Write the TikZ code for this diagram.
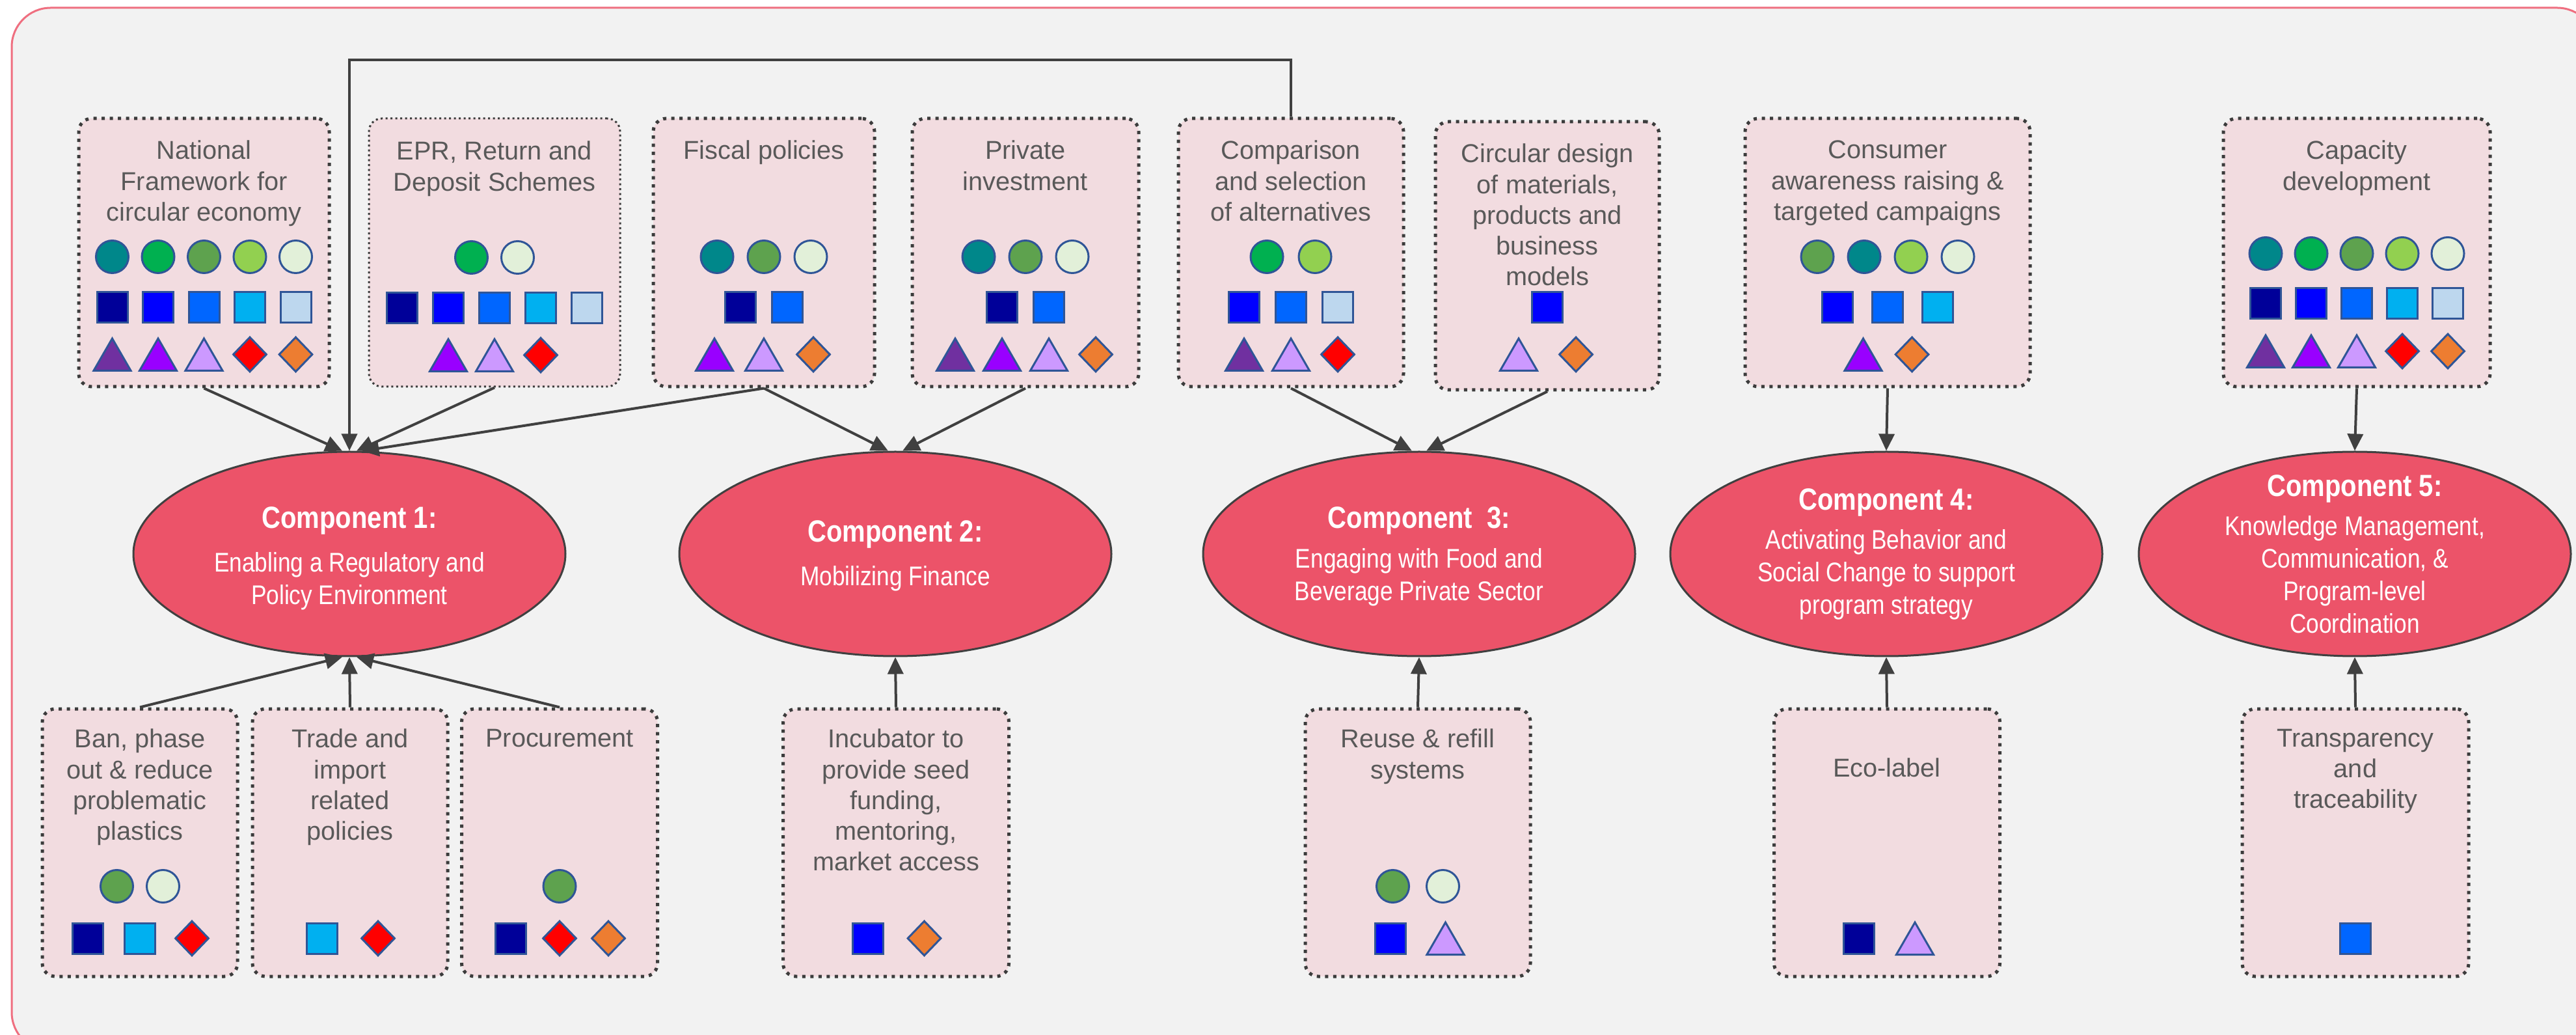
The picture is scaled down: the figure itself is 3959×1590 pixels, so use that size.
\documentclass[tikz,border=0pt]{standalone}
\usepackage{fontspec}
\setmainfont{Liberation Sans}
\newfontfamily\condfont[FakeStretch=0.85]{Liberation Sans}
\usetikzlibrary{shapes.geometric,positioning,calc,arrows.meta}

\definecolor{pagegray}{HTML}{F2F2F2}
\definecolor{framepink}{HTML}{EF6F80}
\definecolor{boxpink}{HTML}{F2DCE0}
\definecolor{boxline}{HTML}{3C3C3C}
\definecolor{compred}{HTML}{EC5369}
\definecolor{linegray}{HTML}{404040}
\definecolor{textgray}{HTML}{595959}
\definecolor{iconline}{HTML}{2F5597}
% circles
\definecolor{cteal}{HTML}{00878A}
\definecolor{cgreen}{HTML}{00B050}
\definecolor{cmoss}{HTML}{5EA24E}
\definecolor{clime}{HTML}{92D050}
\definecolor{cpale}{HTML}{E2F0D9}
% squares
\definecolor{snavy}{HTML}{000099}
\definecolor{sblue}{HTML}{0000FF}
\definecolor{sazure}{HTML}{0066FF}
\definecolor{ssky}{HTML}{00B0F0}
\definecolor{sice}{HTML}{BDD7EE}
% triangles and diamonds
\definecolor{tpurple}{HTML}{7030A0}
\definecolor{tviolet}{HTML}{9900FF}
\definecolor{tlilac}{HTML}{CC99FF}
\definecolor{dred}{HTML}{FF0000}
\definecolor{dorange}{HTML}{ED7D31}

\tikzset{
  topbox/.style={draw=boxline, fill=boxpink, rounded corners=2mm, line width=0.5mm,
    dash pattern=on 0.5mm off 0.75mm, minimum height=41.2mm, inner sep=0pt},
  eprbox/.style={topbox, line width=0.3mm, dash pattern=on 0.3mm off 0.45mm},
  boxtext/.style={inner sep=0pt, align=center, text=textgray, font=\fontsize{11.3}{13.4}\selectfont},
  compell/.style={ellipse, draw=linegray, line width=0.3mm, fill=compred,
    minimum width=66.4mm, minimum height=31.4mm, inner sep=0pt},
  comptext/.style={inner sep=0pt, align=center, text=white, font=\condfont\fontsize{11.8}{14.2}\selectfont},
  conn/.style={draw=linegray, line width=0.4mm, -{Triangle[length=2.6mm,width=2.4mm]}},
  icirc/.style={circle, draw=iconline, line width=0.3mm, fill=#1, minimum size=5mm, inner sep=0pt},
  isq/.style={rectangle, draw=iconline, line width=0.3mm, fill=#1, minimum size=4.7mm, inner sep=0pt},
  itri/.style={regular polygon, regular polygon sides=3, draw=iconline, line width=0.3mm,
    fill=#1, minimum size=6.6mm, inner sep=0pt, yshift=-0.85mm},
  idia/.style={diamond, draw=iconline, line width=0.3mm, fill=#1,
    minimum width=5.2mm, minimum height=5.4mm, inner sep=0pt}
}

% #1 box, #2 row tag, #3 offset below the top, #4 spacing, #5 count, #6 kind/colour list
\newcommand{\iconrow}[6]{%
  \foreach \kind/\col [count=\i] in {#6}
    \node[\kind=\col] (#1-#2\i) at ($(#1.north)+({(\i-(#5+1)/2)*#4},#3)$) {};%
}
\newcommand{\comptitle}[1]{{\bfseries\fontsize{13.4}{16}\selectfont #1}}

\begin{document}
\begin{tikzpicture}[x=0.1mm, y=-0.1mm]
  \useasboundingbox (0,0) rectangle (3959,1590);
  \clip (0,0) rectangle (3959,1590);
  \fill[white] (0,0) rectangle (3959,1590);
  \draw[framepink, line width=0.3mm, fill=pagegray, rounded corners=6mm] (18,12) rectangle (3990,1615);

  % activities above the components
  \node[topbox, minimum width=38.5mm] (natframe) at (313.5,388) {};
  \node[eprbox, minimum width=38.6mm] (epr) at (760,388) {};
  \node[topbox, minimum width=34mm] (fiscal) at (1174,388) {};
  \node[topbox, minimum width=34.8mm] (privinv) at (1576,388) {};
  \node[topbox, minimum width=34.6mm] (compar) at (1984,388) {};
  \node[topbox, minimum width=34.4mm] (circdes) at (2378,393) {};
  \node[topbox, minimum width=43.8mm] (consum) at (2901,388) {};
  \node[topbox, minimum width=41mm] (capdev) at (3622,388) {};

  \node[boxtext, below=3.6mm of natframe.north] (natframe-t) {National\\Framework for\\circular economy};
  \node[boxtext, below=3.6mm of epr.north] (epr-t) {EPR, Return and\\Deposit Schemes};
  \node[boxtext, below=3.6mm of fiscal.north] (fiscal-t) {Fiscal policies};
  \node[boxtext, below=3.6mm of privinv.north] (privinv-t) {Private\\investment};
  \node[boxtext, below=3.6mm of compar.north] (compar-t) {Comparison\\and selection\\of alternatives};
  \node[boxtext, below=3.6mm of circdes.north] (circdes-t) {Circular design\\of materials,\\products and\\business\\models};
  \node[boxtext, below=3.6mm of consum.north] (consum-t) {Consumer\\awareness raising \&\\targeted campaigns};
  \node[boxtext, below=3.6mm of capdev.north] (capdev-t) {Capacity\\development};

  \iconrow{natframe}{c}{215}{70.5}{5}{icirc/cteal, icirc/cgreen, icirc/cmoss, icirc/clime, icirc/cpale}
  \iconrow{natframe}{s}{293}{70.5}{5}{isq/snavy, isq/sblue, isq/sazure, isq/ssky, isq/sice}
  \iconrow{natframe}{t}{365}{70.5}{5}{itri/tpurple, itri/tviolet, itri/tlilac, idia/dred, idia/dorange}
  \iconrow{epr}{c}{215}{71}{2}{icirc/cgreen, icirc/cpale}
  \iconrow{epr}{s}{293}{71}{5}{isq/snavy, isq/sblue, isq/sazure, isq/ssky, isq/sice}
  \iconrow{epr}{t}{365}{71}{3}{itri/tviolet, itri/tlilac, idia/dred}
  \iconrow{fiscal}{c}{215}{72}{3}{icirc/cteal, icirc/cmoss, icirc/cpale}
  \iconrow{fiscal}{s}{293}{72}{2}{isq/snavy, isq/sazure}
  \iconrow{fiscal}{t}{365}{76}{3}{itri/tviolet, itri/tlilac, idia/dorange}
  \iconrow{privinv}{c}{215}{72}{3}{icirc/cteal, icirc/cmoss, icirc/cpale}
  \iconrow{privinv}{s}{293}{72}{2}{isq/snavy, isq/sazure}
  \iconrow{privinv}{t}{365}{72}{4}{itri/tpurple, itri/tviolet, itri/tlilac, idia/dorange}
  \iconrow{compar}{c}{215}{74}{2}{icirc/cgreen, icirc/clime}
  \iconrow{compar}{s}{293}{72}{3}{isq/sblue, isq/sazure, isq/sice}
  \iconrow{compar}{t}{365}{72}{3}{itri/tpurple, itri/tlilac, idia/dred}
  \iconrow{circdes}{s}{288}{72}{1}{isq/sblue}
  \iconrow{circdes}{t}{360}{88}{2}{itri/tlilac, idia/dorange}
  \iconrow{consum}{c}{215}{72}{4}{icirc/cmoss, icirc/cteal, icirc/clime, icirc/cpale}
  \iconrow{consum}{s}{293}{77}{3}{isq/sblue, isq/sazure, isq/ssky}
  \iconrow{consum}{t}{365}{75}{2}{itri/tviolet, idia/dorange}
  \iconrow{capdev}{c}{210}{70}{5}{icirc/cteal, icirc/cgreen, icirc/cmoss, icirc/clime, icirc/cpale}
  \iconrow{capdev}{s}{287}{70}{5}{isq/snavy, isq/sblue, isq/sazure, isq/ssky, isq/sice}
  \iconrow{capdev}{t}{360}{70}{5}{itri/tpurple, itri/tviolet, itri/tlilac, idia/dred, idia/dorange}

  % the five components
  \node[compell] (comp1) at (537,851) {};
  \node[compell] (comp2) at (1376,851) {};
  \node[compell] (comp3) at (2181,851) {};
  \node[compell] (comp4) at (2899,851) {};
  \node[compell] (comp5) at (3619,851) {};
  \node[comptext, yshift=-0.7mm] (comp1-t) at (comp1) {\comptitle{Component 1:}\\[5pt]Enabling a Regulatory and\\Policy Environment};
  \node[comptext, yshift=-0.3mm] (comp2-t) at (comp2) {\comptitle{Component 2:}\\[5pt]Mobilizing Finance};
  \node[comptext, yshift=-0.4mm] (comp3-t) at (comp3) {\comptitle{Component\ \ 3:}\\[3pt]Engaging with Food and\\Beverage Private Sector};
  \node[comptext] (comp4-t) at (comp4) {\comptitle{Component 4:}\\[3pt]Activating Behavior and\\Social Change to support\\program strategy};
  \node[comptext] (comp5-t) at (comp5) {\comptitle{Component 5:}\\[3pt]Knowledge Management,\\Communication, \&\\Program-level\\Coordination};

  % activities below the components
  \node[topbox, minimum width=30mm, minimum height=41.1mm] (ban) at (215,1294.5) {};
  \node[topbox, minimum width=30mm, minimum height=41.1mm] (trade) at (538,1294.5) {};
  \node[topbox, minimum width=30.1mm, minimum height=41.1mm] (procure) at (860,1294.5) {};
  \node[topbox, minimum width=34.7mm, minimum height=41.1mm] (incub) at (1377,1294.5) {};
  \node[topbox, minimum width=34.6mm, minimum height=41.1mm] (reuse) at (2179,1294.5) {};
  \node[topbox, minimum width=34.7mm, minimum height=41.1mm] (eco) at (2900,1294.5) {};
  \node[topbox, minimum width=34.8mm, minimum height=41.1mm] (transp) at (3620,1294.5) {};

  \node[boxtext, below=3.3mm of ban.north] (ban-t) {Ban, phase\\out \& reduce\\problematic\\plastics};
  \node[boxtext, below=3.3mm of trade.north] (trade-t) {Trade and\\import\\related\\policies};
  \node[boxtext, below=3.3mm of procure.north] (procure-t) {Procurement};
  \node[boxtext, below=3.3mm of incub.north] (incub-t) {Incubator to\\provide seed\\funding,\\mentoring,\\market access};
  \node[boxtext, below=3.3mm of reuse.north] (reuse-t) {Reuse \& refill\\systems};
  \node[boxtext, below=7.8mm of eco.north] (eco-t) {Eco-label};
  \node[boxtext, below=3.3mm of transp.north] (transp-t) {Transparency\\and\\traceability};

  \iconrow{ban}{c}{275}{71}{2}{icirc/cmoss, icirc/cpale}
  \iconrow{ban}{s}{355}{80}{3}{isq/snavy, isq/ssky, idia/dred}
  \iconrow{trade}{s}{355}{86}{2}{isq/ssky, idia/dred}
  \iconrow{procure}{c}{275}{71}{1}{icirc/cmoss}
  \iconrow{procure}{s}{355}{75}{3}{isq/snavy, idia/dred, idia/dorange}
  \iconrow{incub}{s}{355}{87}{2}{isq/sblue, idia/dorange}
  \iconrow{reuse}{c}{275}{77}{2}{icirc/cmoss, icirc/cpale}
  \iconrow{reuse}{s}{355}{85}{2}{isq/sblue, itri/tlilac}
  \iconrow{eco}{s}{355}{86}{2}{isq/snavy, itri/tlilac}
  \iconrow{transp}{s}{355}{86}{1}{isq/sazure}

  % connectors into the components
  \draw[conn] (compar.north) -- ++(0,-87) -| (comp1.north);
  \draw[conn] (natframe.south) -- (comp1.94);
  \draw[conn] (epr.south) -- (comp1.86);
  \draw[conn] (fiscal.south) -- (comp1.83);
  \draw[conn] (fiscal.south) -- (comp2.94);
  \draw[conn] (privinv.south) -- (comp2.86);
  \draw[conn] (compar.south) -- (comp3.94);
  \draw[conn] (circdes.south) -- (comp3.86);
  \draw[conn] (consum.south) -- (comp4.north);
  \draw[conn] (capdev.south) -- (comp5.north);
  \draw[conn] (ban.north) -- (comp1.266);
  \draw[conn] (trade.north) -- (comp1.south);
  \draw[conn] (procure.north) -- (comp1.274);
  \draw[conn] (incub.north) -- (comp2.south);
  \draw[conn] (reuse.north) -- (comp3.south);
  \draw[conn] (eco.north) -- (comp4.south);
  \draw[conn] (transp.north) -- (comp5.south);
\end{tikzpicture}
\end{document}
